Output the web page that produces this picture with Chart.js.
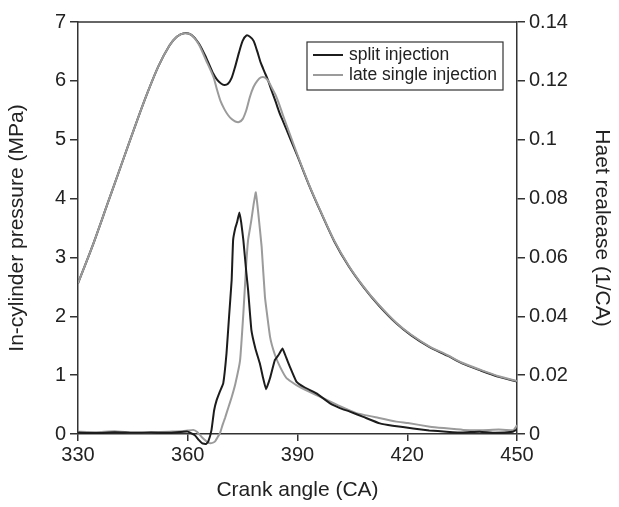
<!DOCTYPE html>
<html>
<head>
<meta charset="utf-8">
<script src="https://cdn.jsdelivr.net/npm/chart.js@4"></script>
<style>
    html, body { margin: 0; padding: 0; background: #fff; }
</style>
</head>
<body>
<canvas id="heat-chart" width="619" height="507"></canvas>
<script>
// in-cylinder pressure (MPa), same crank angles for both cases
const angleP = [330, 334, 338, 342, 346, 349, 352, 355, 357, 359, 361, 363, 365, 367, 368, 369, 370, 371, 372, 373, 374, 375, 376, 377, 378, 379, 380, 381, 382, 383, 384, 385, 386, 388, 390, 393, 396, 400, 404, 408, 412, 417, 421, 426, 431, 435, 440, 445, 450];
const pSplit = [2.56, 3.2, 3.9, 4.6, 5.3, 5.8, 6.25, 6.6, 6.75, 6.81, 6.78, 6.64, 6.4, 6.12, 6.02, 5.96, 5.93, 5.95, 6.05, 6.25, 6.48, 6.68, 6.77, 6.75, 6.68, 6.5, 6.3, 6.15, 6.0, 5.82, 5.65, 5.47, 5.32, 5.02, 4.72, 4.25, 3.82, 3.28, 2.85, 2.5, 2.2, 1.88, 1.68, 1.48, 1.33, 1.2, 1.08, 0.97, 0.89];
const pLate = [2.56, 3.2, 3.9, 4.6, 5.3, 5.8, 6.25, 6.6, 6.75, 6.81, 6.78, 6.62, 6.35, 6.07, 5.85, 5.65, 5.52, 5.42, 5.35, 5.31, 5.3, 5.35, 5.5, 5.73, 5.9, 6.0, 6.06, 6.06, 6.0, 5.88, 5.76, 5.6, 5.42, 5.08, 4.74, 4.26, 3.83, 3.29, 2.86, 2.51, 2.21, 1.89, 1.69, 1.49, 1.34, 1.21, 1.09, 0.98, 0.9];

// heat release (1/CA)
const angleHrSplit = [330, 335, 340, 345, 350, 355, 358, 360, 362, 363, 364, 365, 365.6, 366.5, 367.2, 367.9, 368.8, 369.7, 370.6, 371.3, 372, 372.4, 373, 373.5, 374.1, 374.6, 375.2, 376, 376.5, 377.4, 378.5, 379.7, 380.6, 381.4, 382.5, 383.8, 384.9, 385.9, 386.9, 387.9, 389.7, 392, 395.2, 398.9, 401.6, 404.3, 408, 412.5, 416, 421.6, 426, 430.7, 435, 439.8, 444, 448.9, 450];
const hrSplit = [0.0005, 0.0003, 0.0006, 0.0004, 0.0005, 0.0004, 0.0007, 0.0008, -0.0005, -0.002, -0.0032, -0.0034, -0.0026, 0.0014, 0.008, 0.0115, 0.0145, 0.0172, 0.0275, 0.04, 0.0523, 0.0659, 0.07, 0.072, 0.0753, 0.072, 0.0659, 0.055, 0.0489, 0.0353, 0.029, 0.024, 0.019, 0.0152, 0.019, 0.0251, 0.027, 0.0291, 0.026, 0.0229, 0.0178, 0.0158, 0.0138, 0.0104, 0.0088, 0.0076, 0.0058, 0.0036, 0.0028, 0.0019, 0.0012, 0.0008, 0.0005, 0.0008, 0.0004, 0.0008, 0.0015];

const angleHrLate = [330, 335, 340, 345, 350, 355, 358, 360, 361.5, 362.5, 363.8, 365, 365.6, 366.5, 367.4, 368.2, 368.8, 369.5, 370.2, 371.1, 372, 373, 374.3, 375.2, 376, 376.5, 377.3, 378, 378.6, 379.2, 380.2, 381.1, 382.5, 383.8, 385.2, 387, 389.7, 393, 397, 401, 406.1, 412, 417, 420.2, 426.2, 430, 435.3, 440, 445, 449, 450];
const hrLate = [0.0008, 0.0006, 0.0009, 0.0005, 0.0006, 0.0008, 0.0009, 0.0012, 0.0014, 0.0008, -0.001, -0.0024, -0.003, -0.0031, -0.0026, -0.001, 0.0002, 0.003, 0.0055, 0.009, 0.0125, 0.017, 0.025, 0.041, 0.058, 0.066, 0.072, 0.078, 0.0821, 0.076, 0.0636, 0.0466, 0.033, 0.027, 0.0229, 0.019, 0.0166, 0.0145, 0.0122, 0.0098, 0.0071, 0.0055, 0.0042, 0.0037, 0.0025, 0.002, 0.0014, 0.0013, 0.0015, 0.0013, 0.003];

const seriesNames = ['split injection', 'late single injection'];
const BLACK = '#1c1c1c';
const GREY = '#9b9b9b';
const AXIS = '#333333';
const FONT = 'Liberation Sans, Arial, Helvetica, sans-serif';

function points(xs, ys) {
    return xs.map((x, i) => ({ x: x, y: ys[i] }));
}

// box round the plot and the framed legend in the upper right
const framePlugin = {
    id: 'frame',
    afterDatasetsDraw(chart) {
        const ctx = chart.ctx;
        const a = chart.chartArea;
        ctx.save();
        ctx.strokeStyle = AXIS;
        ctx.lineWidth = 1.5;
        ctx.beginPath();
        ctx.moveTo(a.left, a.top);
        ctx.lineTo(a.right, a.top);
        ctx.stroke();

        const bx = 307, by = 42, bw = 196, bh = 48;
        ctx.fillStyle = '#fff';
        ctx.fillRect(bx, by, bw, bh);
        ctx.lineWidth = 1.2;
        ctx.strokeRect(bx, by, bw, bh);
        ctx.font = '17.5px ' + FONT;
        ctx.textBaseline = 'middle';
        [BLACK, GREY].forEach((c, i) => {
            const y = by + 13 + i * 20;
            ctx.strokeStyle = c;
            ctx.lineWidth = 2;
            ctx.beginPath();
            ctx.moveTo(bx + 6, y);
            ctx.lineTo(bx + 36, y);
            ctx.stroke();
            ctx.fillStyle = '#222';
            ctx.fillText(seriesNames[i], bx + 42, y);
        });
        ctx.restore();
    }
};

Chart.defaults.font.family = FONT;
Chart.defaults.color = '#222';

new Chart(document.getElementById('heat-chart'), {
    type: 'line',
    data: {
        datasets: [{
            label: seriesNames[0],
            data: points(angleP, pSplit),
            yAxisID: 'y',
            borderColor: BLACK,
            order: 2
        }, {
            label: seriesNames[1],
            data: points(angleP, pLate),
            yAxisID: 'y',
            borderColor: GREY,
            order: 1
        }, {
            label: seriesNames[0] + ' HR',
            data: points(angleHrSplit, hrSplit),
            yAxisID: 'y2',
            borderColor: BLACK,
            tension: 0.1,
            clip: { left: 0, top: 0, right: 0, bottom: 12 },
            order: 3
        }, {
            label: seriesNames[1] + ' HR',
            data: points(angleHrLate, hrLate),
            yAxisID: 'y2',
            borderColor: GREY,
            tension: 0.1,
            clip: { left: 0, top: 0, right: 0, bottom: 12 },
            order: 4
        }]
    },
    options: {
        responsive: false,
        animation: false,
        layout: { padding: { top: 22, left: 0, right: 0, bottom: 0 } },
        elements: {
            point: { radius: 0 },
            line: { borderWidth: 2, tension: 0.25 }
        },
        plugins: {
            legend: { display: false },
            tooltip: { enabled: false }
        },
        scales: {
            x: {
                type: 'linear',
                min: 330,
                max: 450,
                afterFit: s => { s.height = 73; },
                ticks: { stepSize: 30, font: { size: 20 }, padding: 2 },
                grid: { drawOnChartArea: false, tickLength: 7, color: AXIS, lineWidth: 1.5 },
                border: { color: AXIS, width: 1.5 },
                title: { display: true, text: 'Crank angle (CA)', font: { size: 21 }, padding: { top: 4, bottom: 4 } }
            },
            y: {
                position: 'left',
                min: 0,
                max: 7,
                afterFit: s => { s.width = 78; },
                ticks: { stepSize: 1, font: { size: 20 }, padding: 4 },
                grid: { drawOnChartArea: false, tickLength: 8, color: AXIS, lineWidth: 1.5 },
                border: { color: AXIS, width: 1.5 },
                title: { display: true, text: 'In-cylinder pressure (MPa)', font: { size: 21 }, padding: { top: 5, bottom: 0 } }
            },
            y2: {
                position: 'right',
                min: 0,
                max: 0.14,
                afterFit: s => { s.width = 102; },
                ticks: { stepSize: 0.02, font: { size: 20 }, padding: 4, callback: v => String(+v.toFixed(2)) },
                grid: { drawOnChartArea: false, tickLength: 8, color: AXIS, lineWidth: 1.5 },
                border: { color: AXIS, width: 1.5 },
                title: { display: true, text: 'Haet realease (1/CA)', font: { size: 21 }, padding: { top: 5, bottom: 0 } }
            }
        }
    },
    plugins: [framePlugin]
});
</script>
</body>
</html>
